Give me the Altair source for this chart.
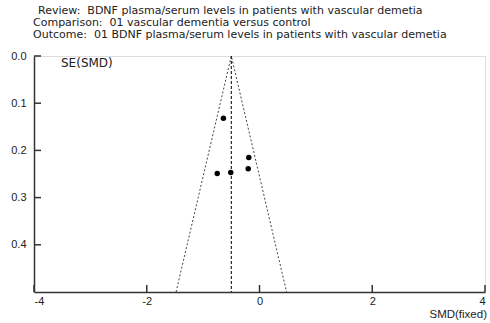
import altair as alt
import pandas as pd

# Study data (standardised mean difference and its standard error)
smd = [-0.64, -0.19, -0.20, -0.75, -0.51]
se = [0.132, 0.215, 0.239, 0.249, 0.247]

pooled = -0.50          # fixed-effect pooled SMD
se_max = 0.5            # bottom of funnel

x_ticks = [-4, -2, 0, 2, 4]
y_ticks = [0.0, 0.1, 0.2, 0.3, 0.4]

header_lines = [
    "Review:\u00a0 BDNF plasma/serum levels in patients with vascular demetia",
    "Comparison:\u00a0 01 vascular dementia versus control",
    "Outcome:\u00a0 01 BDNF plasma/serum levels in patients with vascular demetia",
]
y_title = "SE(SMD)"
x_title = "SMD(fixed)"

FONT = "Liberation Sans"
HFONT = "DejaVu Sans"

pts = pd.DataFrame({"smd": smd, "se": se})
funnel = pd.DataFrame({
    "smd": [pooled - 1.96 * se_max, pooled, pooled + 1.96 * se_max],
    "se": [se_max, 0.0, se_max],
    "o": [0, 1, 2],
})
center = pd.DataFrame({"smd": [pooled, pooled], "se": [0.0, se_max], "o": [0, 1]})
xt = pd.DataFrame({"v": x_ticks})
yt = pd.DataFrame({"v": y_ticks})
one = pd.DataFrame({"k": [0]})

xscale = alt.Scale(domain=[-4, 4], nice=False, zero=False)
yscale = alt.Scale(domain=[0, se_max], reverse=True, nice=False, zero=False)

xaxis = alt.Axis(values=x_ticks, labelExpr="'' + datum.value", ticks=False, grid=False, title=None,
                 domainColor="#333", domainWidth=1.5, labelFont=FONT, labelFontSize=11,
                 labelColor="#222", labelPadding=3)
yaxis = alt.Axis(values=y_ticks, format=".1f", ticks=False, grid=False, title=None,
                 domainColor="#333", domainWidth=1.5, labelFont=FONT, labelFontSize=11,
                 labelColor="#222", labelPadding=8)

base_pts = alt.Chart(pts).mark_circle(size=30, color="black", opacity=1).encode(
    x=alt.X("smd:Q", scale=xscale, axis=xaxis),
    y=alt.Y("se:Q", scale=yscale, axis=yaxis),
)

funnel_line = alt.Chart(funnel).mark_line(color="#444", strokeWidth=1, strokeDash=[2, 2]).encode(
    x=alt.X("smd:Q", scale=xscale),
    y=alt.Y("se:Q", scale=yscale),
    order="o:O",
)

center_line = alt.Chart(center).mark_line(color="#111", strokeWidth=1.1, strokeDash=[3, 2]).encode(
    x=alt.X("smd:Q", scale=xscale),
    y=alt.Y("se:Q", scale=yscale),
    order="o:O",
)

x_tick_marks = alt.Chart(xt).mark_rule(color="#333", strokeWidth=1.5).encode(
    x=alt.X("v:Q", scale=xscale),
    y=alt.value(236),
    y2=alt.value(229),
)
y_tick_marks = alt.Chart(yt).mark_rule(color="#333", strokeWidth=1.5).encode(
    y=alt.Y("v:Q", scale=yscale),
    x=alt.value(0),
    x2=alt.value(7),
)

header_x = [4, -1, -1]
header_y = [-42, -30, -18]
header_layers = [
    alt.Chart(one).mark_text(text=t, align="left", baseline="alphabetic", font=HFONT,
                             fontSize=11, color="#222").encode(
        x=alt.value(hx), y=alt.value(hy))
    for t, hx, hy in zip(header_lines, header_x, header_y)
]

ytitle = alt.Chart(one).mark_text(text=y_title, align="left", baseline="alphabetic",
                                   font=HFONT, fontSize=12, color="#222").encode(
    x=alt.value(27), y=alt.value(11))
xtitle = alt.Chart(one).mark_text(text=x_title, align="right", baseline="alphabetic",
                                   font=FONT, fontSize=11.5, color="#222").encode(
    x=alt.value(453), y=alt.value(262))

chart = alt.layer(
    funnel_line, center_line, x_tick_marks, y_tick_marks, base_pts,
    *header_layers, ytitle, xtitle,
).properties(
    width=451, height=236,
    padding={"left": 34, "top": 56, "right": 5, "bottom": 31},
    autosize=alt.AutoSizeParams(type="none"),
).configure_view(stroke=None).configure(background="white")

chart.save("out.html", embed_options={"renderer": "svg", "actions": False})
